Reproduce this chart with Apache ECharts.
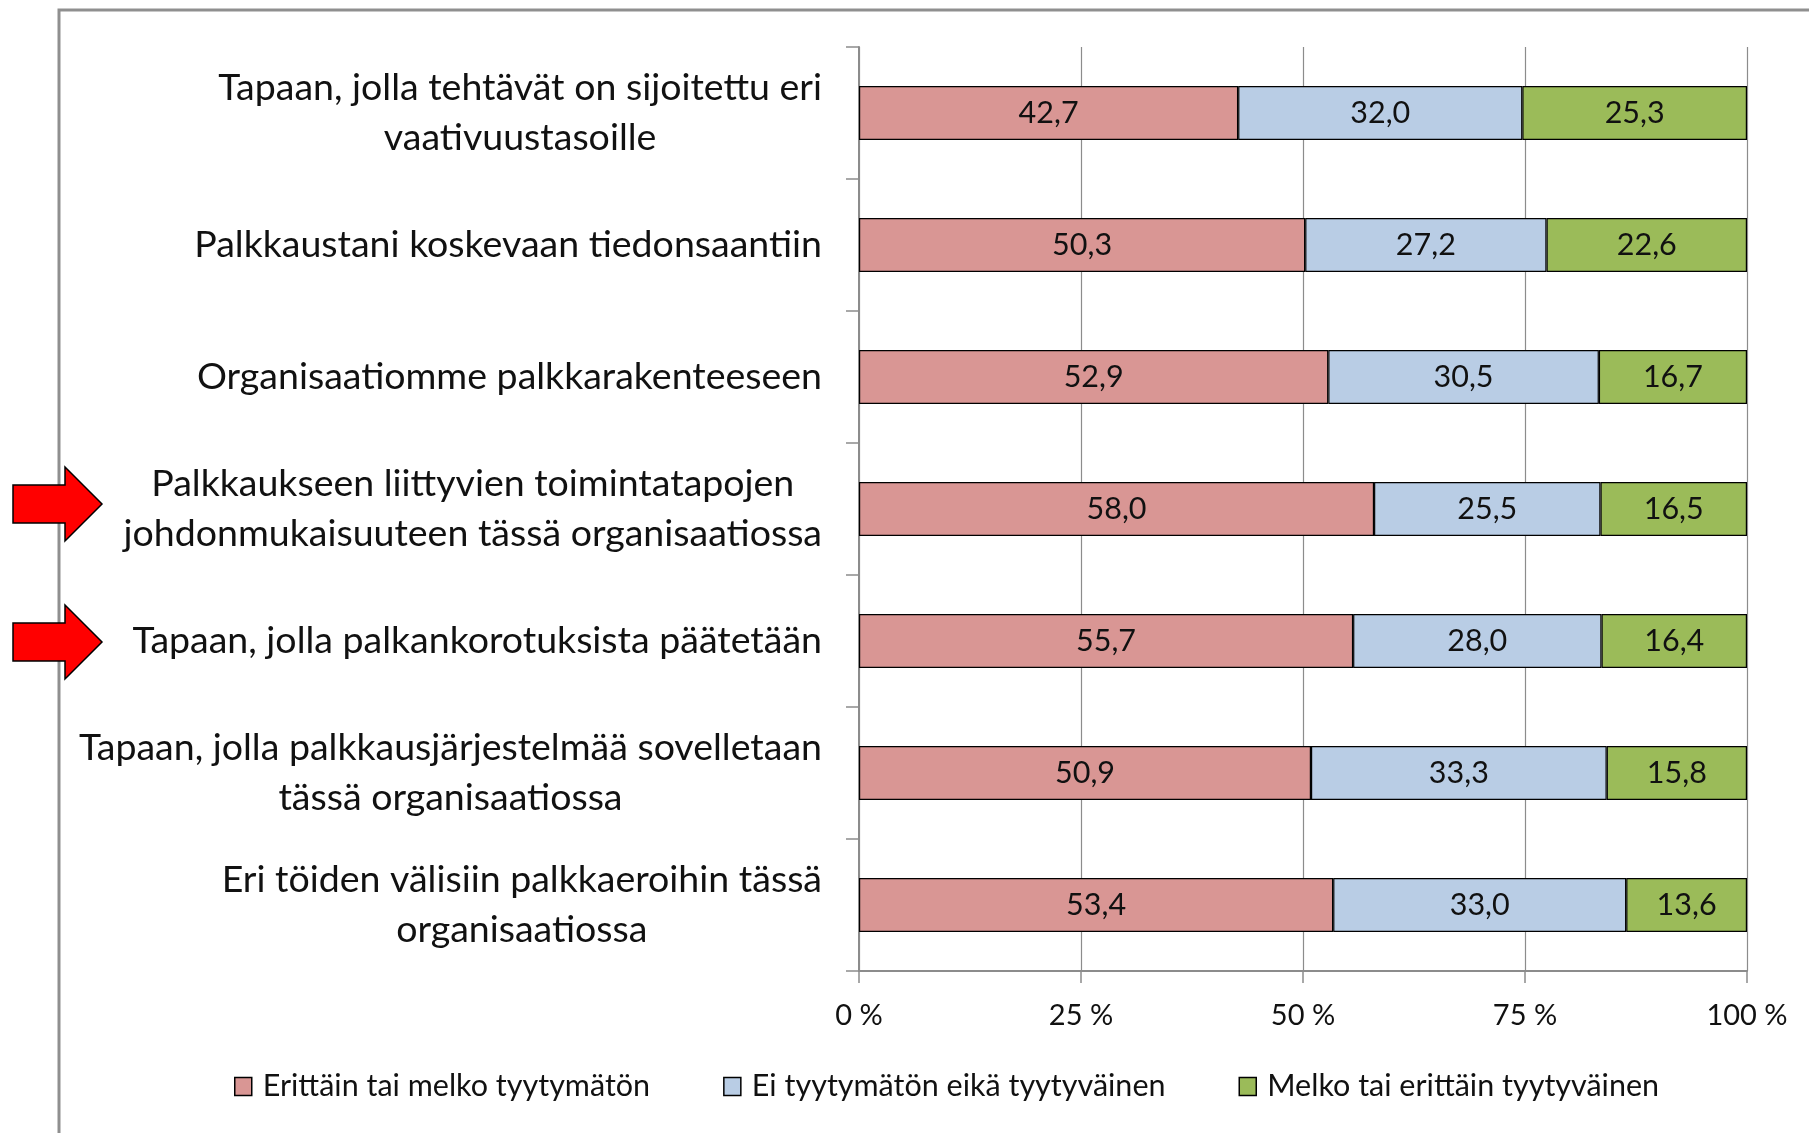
<!DOCTYPE html>
<html>
<head>
<meta charset="utf-8">
<script src="https://cdn.jsdelivr.net/npm/echarts@6/dist/echarts.min.js"></script>
<style>
html,body{margin:0;padding:0;background:#fff;}
#chart{width:1809px;height:1133px;}
</style>
</head>
<body>
<div id="chart"></div>
<script>
const categories = [
  "Tapaan, jolla tehtävät on sijoitettu eri\nvaativuustasoille",
  "Palkkaustani koskevaan tiedonsaantiin",
  "Organisaatiomme palkkarakenteeseen",
  "Palkkaukseen liittyvien toimintatapojen\njohdonmukaisuuteen tässä organisaatiossa",
  "Tapaan, jolla palkankorotuksista päätetään",
  "Tapaan, jolla palkkausjärjestelmää sovelletaan\ntässä organisaatiossa",
  "Eri töiden välisiin palkkaeroihin tässä\norganisaatiossa"
];
const seriesNames = ["Erittäin tai melko tyytymätön", "Ei tyytymätön eikä tyytyväinen", "Melko tai erittäin tyytyväinen"];
const dissatisfied = [42.7, 50.3, 52.9, 58.0, 55.7, 50.9, 53.4];
const neutral      = [32.0, 27.2, 30.5, 25.5, 28.0, 33.3, 33.0];
const satisfied    = [25.3, 22.6, 16.7, 16.5, 16.4, 15.8, 13.6];
const xTicks = [0, 25, 50, 75, 100];
const highlighted = [3, 4];

const colors = ["#D99694", "#B9CDE5", "#9BBB59"];
const FONT = "Lato";
const all = [dissatisfied, neutral, satisfied];
const totals = categories.map((c, i) => all.reduce((s, arr) => s + arr[i], 0));

const chart = echarts.init(document.getElementById('chart'), null, {renderer: 'canvas'});

const series = all.map((arr, k) => ({
  name: seriesNames[k],
  type: 'bar',
  stack: 'total',
  barWidth: 54,
  data: arr.map((v, i) => ({value: v / totals[i] * 100, raw: v})),
  itemStyle: {color: colors[k], borderColor: '#000', borderWidth: 1.2},
  label: {
    show: true,
    position: 'inside',
    color: '#111',
    fontFamily: FONT,
    fontSize: 30.5,
    formatter: p => p.data.raw.toFixed(1).replace('.', ',')
  }
}));

chart.setOption({
  animation: false,
  backgroundColor: '#fff',
  grid: {left: 859, right: 62, top: 47, bottom: 162, containLabel: false},
  xAxis: {
    type: 'value', min: 0, max: 100, interval: 25,
    axisLine: {show: true, lineStyle: {color: '#8c8c8c', width: 2}},
    axisTick: {show: true, length: 12, lineStyle: {color: '#8c8c8c', width: 1.5}},
    splitLine: {show: true, lineStyle: {color: '#8c8c8c', width: 1.2}},
    axisLabel: {
      margin: 30, color: '#111', fontFamily: FONT, fontSize: 29,
      formatter: v => xTicks.includes(v) ? v + ' %' : ''
    }
  },
  yAxis: {
    type: 'category', inverse: true, data: categories,
    axisLine: {show: true, lineStyle: {color: '#8c8c8c', width: 2}},
    axisTick: {show: true, length: 13, lineStyle: {color: '#8c8c8c', width: 1.5}},
    axisLabel: {
      margin: 37,
      formatter: v => v.split('\n').map(l => '{c|' + l + '}').join('\n'),
      rich: {c: {align: 'center', fontFamily: FONT, fontSize: 37.5, lineHeight: 50, color: '#111'}}
    }
  },
  legend: {
    left: 229, top: 1066,
    itemWidth: 17, itemHeight: 18, itemGap: 73,
    icon: 'rect',
    itemStyle: {borderColor: '#000', borderWidth: 1.5},
    textStyle: {fontFamily: FONT, fontSize: 30.5, color: '#111', padding: [0, 0, 0, 6]},
    data: seriesNames
  },
  series: series
});

// Decorative frame and arrows pointing at highlighted categories
const arrowOffsets = [-5, 1];
const graphics = [{
  type: 'rect', silent: true,
  shape: {x: 59, y: 10, width: 2000, height: 2000},
  style: {fill: 'none', stroke: '#8f8f8f', lineWidth: 3}
}];
highlighted.forEach((idx, j) => {
  const cy = chart.convertToPixel({yAxisIndex: 0}, categories[idx]) + arrowOffsets[j];
  graphics.push({
    type: 'polygon', silent: true, z: 100,
    shape: {points: [[13, cy - 19], [65, cy - 19], [65, cy - 37], [102, cy], [65, cy + 37], [65, cy + 19], [13, cy + 19]]},
    style: {fill: '#FF0000', stroke: '#000', lineWidth: 1.5}
  });
});
chart.setOption({graphic: graphics});
</script>
</body>
</html>
